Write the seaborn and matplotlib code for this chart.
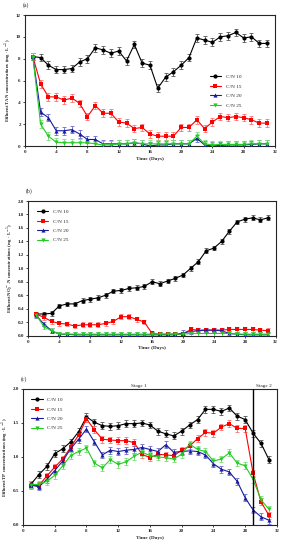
import numpy as np
import pandas as pd
import matplotlib
matplotlib.use("Agg")
import matplotlib.pyplot as plt
import seaborn as sns

days = list(range(1, 32))
groups = ["C/N 10", "C/N 15", "C/N 20", "C/N 25"]

# (a) effluent TAN
tan_cn10 = [8.2, 8.1, 7.4, 7.0, 7.0, 7.1, 7.7, 8.0, 9.0, 8.8, 8.5, 8.7, 7.8, 9.3, 7.6, 7.4,
            5.3, 6.3, 6.8, 7.4, 8.1, 9.9, 9.7, 9.5, 10.0, 10.1, 10.4, 9.9, 10.0, 9.4, 9.4]
tan_cn15 = [8.2, 5.7, 4.5, 4.5, 4.2, 4.4, 3.9, 2.7, 3.7, 3.0, 3.0, 2.2, 2.1, 1.6, 1.7, 1.1,
            0.9, 0.9, 0.9, 1.7, 1.7, 2.4, 1.6, 2.2, 2.7, 2.6, 2.7, 2.6, 2.4, 2.1, 2.1]
tan_cn20 = [8.2, 3.1, 2.6, 1.4, 1.4, 1.5, 1.1, 0.6, 0.6, 0.2, 0.2, 0.2, 0.2, 0.3, 0.2, 0.0,
            0.1, 0.1, 0.2, 0.2, 0.2, 0.7, 0.1, 0.0, 0.05, 0.1, 0.1, 0.1, 0.15, 0.2, 0.2]
tan_cn25 = [8.2, 2.0, 0.9, 0.35, 0.3, 0.3, 0.3, 0.3, 0.2, 0.1, 0.1, 0.2, 0.2, 0.3, 0.2, 0.2,
            0.2, 0.2, 0.2, 0.2, 0.2, 0.9, 0.2, 0.1, 0.15, 0.15, 0.15, 0.15, 0.2, 0.2, 0.2]

# (b) effluent NO2--N
no2_cn10 = [0.32, 0.32, 0.33, 0.44, 0.47, 0.47, 0.52, 0.54, 0.56, 0.60, 0.66, 0.67, 0.70, 0.71,
            0.73, 0.80, 0.77, 0.81, 0.85, 0.90, 1.00, 1.10, 1.26, 1.30, 1.40, 1.55, 1.69, 1.73,
            1.75, 1.72, 1.75]
no2_cn15 = [0.32, 0.27, 0.21, 0.18, 0.17, 0.14, 0.16, 0.16, 0.16, 0.18, 0.21, 0.28, 0.28, 0.24,
            0.20, 0.03, 0.02, 0.02, 0.02, 0.02, 0.09, 0.08, 0.08, 0.08, 0.08, 0.09, 0.09, 0.09,
            0.09, 0.08, 0.07]
no2_cn20 = [0.30, 0.17, 0.07, 0.02, 0.02, 0.01, 0.01, 0.01, 0.01, 0.01, 0.01, 0.01, 0.01, 0.01,
            0.01, 0.01, 0.01, 0.01, 0.01, 0.04, 0.06, 0.07, 0.08, 0.08, 0.07, 0.03, 0.02, 0.01,
            0.01, 0.01, 0.01]
no2_cn25 = [0.31, 0.13, 0.07, 0.02, 0.02, 0.02, 0.02, 0.02, 0.02, 0.02, 0.02, 0.02, 0.02, 0.02,
            0.02, 0.02, 0.02, 0.02, 0.02, 0.02, 0.03, 0.03, 0.03, 0.03, 0.03, 0.03, 0.02, 0.02,
            0.02, 0.02, 0.02]

# (c) effluent TP
tp_cn10 = [0.60, 0.74, 0.86, 1.05, 1.12, 1.22, 1.37, 1.59, 1.51, 1.46, 1.45, 1.46, 1.49, 1.49,
           1.50, 1.47, 1.38, 1.34, 1.31, 1.38, 1.47, 1.55, 1.70, 1.70, 1.67, 1.72, 1.60, 1.55,
           1.35, 1.20, 0.96]
tp_cn15 = [0.58, 0.58, 0.72, 0.85, 0.97, 1.14, 1.32, 1.56, 1.40, 1.26, 1.25, 1.24, 1.24, 1.21,
           1.04, 0.99, 1.04, 1.03, 1.02, 1.10, 1.16, 1.27, 1.36, 1.35, 1.44, 1.49, 1.42, 1.42,
           0.76, 0.34, 0.14]
tp_cn20 = [0.59, 0.56, 0.67, 0.80, 0.94, 1.12, 1.26, 1.41, 1.22, 1.03, 1.10, 1.08, 1.10, 1.11,
           1.14, 1.11, 1.08, 1.18, 1.07, 1.08, 1.09, 1.08, 1.03, 0.90, 0.82, 0.78, 0.64, 0.40,
           0.22, 0.12, 0.07]
tp_cn25 = [0.59, 0.60, 0.64, 0.73, 0.87, 1.02, 1.08, 1.13, 0.91, 0.84, 0.96, 0.89, 0.93, 1.01,
           1.07, 1.02, 1.00, 0.99, 0.97, 1.04, 1.19, 1.11, 1.08, 0.94, 0.97, 1.06, 0.91, 0.87,
           0.67, 0.37, 0.23]

err_tan = 0.35
err_no2 = 0.035
err_tp = 0.05

colors = ["#000000", "#ff0000", "#1a1aa0", "#22cc22"]
ecolors = ["#555555", "#ff7070", "#6a6acc", "#77dd77"]
markers = ["o", "s", "^", "v"]

sns.set_style("ticks")
plt.rcParams["font.family"] = ["Liberation Serif", "DejaVu Serif"]

fig = plt.figure(figsize=(2.84, 5.5), dpi=100)


def to_long(series):
    rows = []
    for g, vals in zip(groups, series):
        for d, v in zip(days, vals):
            rows.append({"day": d, "value": v, "group": g})
    return pd.DataFrame(rows)


def panel(rect, series, err, ymax, ystep, yfmt, ylabel, tag):
    ax = fig.add_axes(rect)
    df = to_long(series)
    for i, vals in enumerate(series):
        ax.errorbar(days, vals, yerr=err, fmt="none", ecolor=ecolors[i],
                    elinewidth=0.6, capsize=1.3, capthick=0.6, zorder=1)
    sns.lineplot(data=df, x="day", y="value", hue="group", style="group",
                 palette=colors, markers=markers, dashes=False, markersize=3.0,
                 markeredgewidth=0, linewidth=0.8, ax=ax, zorder=3)
    ax.set_xlim(0, 32)
    ax.set_ylim(0, ymax)
    ax.set_xticks(range(0, 33, 4))
    yt = np.arange(0, ymax + ystep / 2, ystep)
    ax.set_yticks(yt)
    ax.set_yticklabels([yfmt.format(t) for t in yt])
    ax.tick_params(labelsize=3.6, length=1.5, width=0.6, pad=1.5)
    for lab in ax.get_xticklabels() + ax.get_yticklabels():
        lab.set_fontweight("bold")
    for s in ax.spines.values():
        s.set_linewidth(0.8)
    ax.set_xlabel("Time (Days)", fontsize=3.8, fontweight="bold", labelpad=2)
    ax.set_ylabel(ylabel, fontsize=3.4, fontweight="bold", labelpad=2)
    ax.text(-0.01, 1.05, tag, transform=ax.transAxes, fontsize=4.2, ha="left", va="bottom")
    ax.legend(loc="upper left", frameon=False, fontsize=3.8, handlelength=2.2,
              labelspacing=0.9, borderaxespad=1.2)
    return ax


ax_a = panel([0.088, 0.7345, 0.880, 0.2382],
             [tan_cn10, tan_cn15, tan_cn20, tan_cn25], err_tan, 12, 2, "{:.0f}",
             "Effluent TAN concentrations (mg · L$^{-1}$)", "(a)")
ax_a.legend(loc="center left", bbox_to_anchor=(0.72, 0.42), frameon=False, fontsize=3.8,
            handlelength=2.2, labelspacing=0.9)

ax_b = panel([0.100, 0.390, 0.871, 0.2445],
             [no2_cn10, no2_cn15, no2_cn20, no2_cn25], err_no2, 2.0, 0.2, "{:.1f}",
             "Effluent NO$_2^-$-N concentrations (mg · L$^{-1}$)", "(b)")

ax_c = panel([0.081, 0.0455, 0.894, 0.2473],
             [tp_cn10, tp_cn15, tp_cn20, tp_cn25], err_tp, 2.0, 0.5, "{:.1f}",
             "Effluent TP concentrations (mg · L$^{-1}$)", "(c)")
ax_c.axvline(29, color="black", linewidth=1.0, zorder=4)
ax_c.text(14.6, 2.02, "Stage 1", fontsize=3.8, ha="center", va="bottom")
ax_c.text(30.4, 2.02, "Stage 2", fontsize=3.8, ha="center", va="bottom")

fig.savefig("out.png", dpi=100)
